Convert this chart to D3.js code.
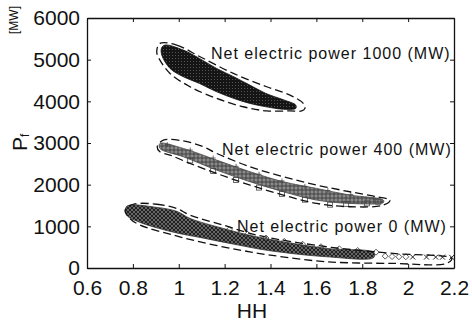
<!DOCTYPE html>
<html>
<head>
<meta charset="utf-8">
<script src="https://cdn.jsdelivr.net/npm/d3@7"></script>
<style>
  html, body { margin: 0; padding: 0; background: #fff; }
  svg { display: block; font-family: "Liberation Sans", Arial, Helvetica, sans-serif; }
</style>
</head>
<body>
<div id="chart"></div>
<script>
// axis ticks
const xTicks = [0.6, 0.8, 1.0, 1.2, 1.4, 1.6, 1.8, 2.0, 2.2];
const yTicks = [0, 1000, 2000, 3000, 4000, 5000, 6000];

// Net electric power 1000 MW : dense cloud (upper / lower edge) and dashed envelope
const hh1000Top = [0.925, 0.94, 1.02, 1.09, 1.165, 1.24, 1.31, 1.38, 1.46, 1.51];
const pf1000Top = [5280, 5350, 5230, 5030, 4790, 4590, 4390, 4190, 4030, 3910];
const hh1000Bot = [0.926, 0.962, 1.02, 1.09, 1.165, 1.24, 1.31, 1.38, 1.456, 1.51];
const pf1000Bot = [5110, 4790, 4590, 4430, 4230, 4070, 3950, 3870, 3810, 3830];
const hhEnv1000 = [0.918, 0.991, 1.093, 1.238, 1.383, 1.485, 1.543, 1.550, 1.536, 1.485, 1.383, 1.281, 1.165, 1.049, 0.962, 0.918, 0.904];
const pfEnv1000 = [5390, 5350, 5070, 4670, 4350, 4150, 3950, 3830, 3770, 3770, 3770, 3870, 4070, 4350, 4670, 4990, 5190];

// Net electric power 400 MW
const hh400Top = [0.918, 1.020, 1.165, 1.311, 1.456, 1.601, 1.746, 1.892];
const pf400Top = [2990, 2870, 2590, 2310, 2070, 1910, 1750, 1630];
const hh400Bot = [0.918, 1.020, 1.165, 1.311, 1.456, 1.601, 1.746, 1.892];
const pf400Bot = [2870, 2670, 2350, 2070, 1830, 1630, 1550, 1570];
const hhEnv400 = [0.933, 1.020, 1.107, 1.165, 1.311, 1.456, 1.601, 1.746, 1.863, 1.921, 1.892, 1.746, 1.601, 1.456, 1.311, 1.165, 1.049, 0.962, 0.918, 0.906];
const pfEnv400 = [3070, 3050, 2910, 2750, 2430, 2190, 1990, 1830, 1710, 1630, 1510, 1470, 1550, 1750, 1990, 2270, 2510, 2710, 2790, 2910];
const hh400Plus = [0.95, 1.05, 1.15, 1.25, 1.35, 1.45, 1.55, 1.65, 1.75, 1.85];
const pf400Plus = [2960, 2830, 2640, 2440, 2250, 2090, 1960, 1860, 1760, 1660];
const hh400Sq = [1.05, 1.15, 1.25, 1.35, 1.45, 1.55, 1.66, 1.73, 1.82, 1.87];
const pf400Sq = [2580, 2330, 2110, 1930, 1780, 1640, 1520, 1540, 1550, 1590];

// Net electric power 0 MW
const hh0Top = [0.773, 0.904, 0.991, 1.049, 1.194, 1.340, 1.645, 1.85];
const pf0Top = [1480, 1455, 1360, 1190, 950, 750, 470, 370];
const hh0Bot = [0.773, 0.824, 0.969, 1.114, 1.260, 1.391, 1.645, 1.85];
const pf0Bot = [1270, 1110, 870, 710, 550, 420, 270, 250];
const hhEnv0 = [0.802, 0.904, 0.991, 1.049, 1.194, 1.340, 1.645, 1.935, 2.190, 2.168, 1.935, 1.645, 1.398, 1.267, 1.122, 0.976, 0.831, 0.787, 0.766];
const pfEnv0 = [1530, 1530, 1430, 1270, 1030, 790, 510, 350, 230, 110, 110, 150, 310, 430, 590, 790, 1030, 1190, 1390];
const hh0Dia = [1.22, 1.30, 1.38, 1.46, 1.54, 1.62, 1.70, 1.78, 1.86, 1.90, 1.93, 1.96, 1.99];
const pf0Dia = [920, 810, 720, 640, 570, 510, 460, 420, 380, 285, 275, 270, 270];
const hh0X = [2.02, 2.08, 2.12, 2.15, 2.19];
const pf0X = [265, 262, 262, 260, 255];

const labels = ["Net electric power 1000 (MW)", "Net electric power 400 (MW)", "Net electric power 0 (MW)"];

const W = 472, H = 323;
const x = d3.scaleLinear().domain([0.6, 2.2]).range([87, 454]);
const y = d3.scaleLinear().domain([0, 6000]).range([268, 18]);

const svg = d3.select("#chart").append("svg").attr("width", W).attr("height", H);

const defs = svg.append("defs");
defs.append("clipPath").attr("id", "plot")
  .append("rect").attr("x", 87).attr("y", 18).attr("width", 367).attr("height", 250);

// cloud textures
const p1 = defs.append("pattern").attr("id", "pat1000").attr("width", 3).attr("height", 3).attr("patternUnits", "userSpaceOnUse");
p1.append("rect").attr("width", 3).attr("height", 3).attr("fill", "#151515");
p1.append("rect").attr("x", 1).attr("y", 1).attr("width", 1).attr("height", 1).attr("fill", "#555");
const p4 = defs.append("pattern").attr("id", "pat400").attr("width", 4).attr("height", 4).attr("patternUnits", "userSpaceOnUse");
p4.append("rect").attr("width", 4).attr("height", 4).attr("fill", "#8a8a8a");
p4.append("path").attr("d", "M2 0V4M0 2H4").attr("stroke", "#333").attr("stroke-width", 0.8);
const p0 = defs.append("pattern").attr("id", "pat0").attr("width", 4).attr("height", 4).attr("patternUnits", "userSpaceOnUse");
p0.append("rect").attr("width", 4).attr("height", 4).attr("fill", "#666");
p0.append("path").attr("d", "M0 0L4 4M4 0L0 4").attr("stroke", "#1a1a1a").attr("stroke-width", 0.9);

const closed = d3.line().x(d => x(d[0])).y(d => y(d[1])).curve(d3.curveCatmullRomClosed);
const pairs = (a, b) => a.map((v, i) => [v, b[i]]);
const band = (ht, pt, hb, pb) => pairs(ht, pt).concat(pairs(hb, pb).reverse());

const g = svg.append("g").attr("clip-path", "url(#plot)");

// dense clouds
[
  [band(hh1000Top, pf1000Top, hh1000Bot, pf1000Bot), "url(#pat1000)", "#111"],
  [band(hh400Top, pf400Top, hh400Bot, pf400Bot), "url(#pat400)", "#444"],
  [band(hh0Top, pf0Top, hh0Bot, pf0Bot), "url(#pat0)", "#333"]
].forEach(([pts, fill, edge]) => {
  g.append("path").attr("d", closed(pts)).attr("fill", fill)
    .attr("stroke", edge).attr("stroke-width", 0.8);
});

// marker points along the cloud edges
g.selectAll(".plus").data(pairs(hh400Plus, pf400Plus)).enter().append("path")
  .attr("d", d => `M${x(d[0]) - 2.5},${y(d[1])}h5M${x(d[0])},${y(d[1]) - 2.5}v5`)
  .attr("stroke", "#444").attr("stroke-width", 0.8);
g.selectAll(".sq").data(pairs(hh400Sq, pf400Sq)).enter().append("rect")
  .attr("x", d => x(d[0]) - 2.5).attr("y", d => y(d[1]) - 2.5)
  .attr("width", 5).attr("height", 5)
  .attr("fill", "none").attr("stroke", "#444").attr("stroke-width", 0.8);
g.selectAll(".dia").data(pairs(hh0Dia, pf0Dia)).enter().append("path")
  .attr("d", d => `M${x(d[0])},${y(d[1]) - 3}l3,3l-3,3l-3,-3z`)
  .attr("fill", "none").attr("stroke", "#333").attr("stroke-width", 0.8);
g.selectAll(".xm").data(pairs(hh0X, pf0X)).enter().append("path")
  .attr("d", d => `M${x(d[0]) - 2.5},${y(d[1]) - 2.5}l5,5M${x(d[0]) + 2.5},${y(d[1]) - 2.5}l-5,5`)
  .attr("stroke", "#222").attr("stroke-width", 1);

// dashed envelopes
[pairs(hhEnv1000, pfEnv1000), pairs(hhEnv400, pfEnv400), pairs(hhEnv0, pfEnv0)].forEach(pts => {
  g.append("path").attr("d", closed(pts)).attr("fill", "none")
    .attr("stroke", "#111").attr("stroke-width", 1.3).attr("stroke-dasharray", "8,4");
});

// axes (MATLAB style box, ticks pointing inward)
const fmtX = d => String(+d.toFixed(1));
svg.append("g").attr("transform", "translate(0,268)")
  .call(d3.axisBottom(x).tickValues(xTicks).tickFormat(fmtX).tickSizeInner(-4).tickSizeOuter(0).tickPadding(12));
svg.append("g").attr("transform", "translate(87,0)")
  .call(d3.axisLeft(y).tickValues(yTicks).tickFormat(d3.format("d")).tickSizeInner(-4).tickSizeOuter(0).tickPadding(7));
svg.append("g").attr("transform", "translate(0,18)")
  .call(d3.axisTop(x).tickValues(xTicks).tickFormat("").tickSizeInner(-4).tickSizeOuter(0));
svg.append("g").attr("transform", "translate(454,0)")
  .call(d3.axisRight(y).tickValues(yTicks).tickFormat("").tickSizeInner(-4).tickSizeOuter(0));

svg.selectAll(".domain").attr("stroke", "#111").attr("stroke-width", 1.3);
svg.selectAll(".tick line").attr("stroke", "#111");
svg.selectAll(".tick text").attr("fill", "#111").style("font-size", "21px");

// annotations
const labelPos = [[211, 59], [222, 155], [237, 232]];
labels.forEach((t, i) => {
  svg.append("text").attr("x", labelPos[i][0]).attr("y", labelPos[i][1])
    .style("font-size", "16px").style("letter-spacing", "1px").attr("fill", "#111").text(t);
});

// axis titles
svg.append("text").attr("x", 252).attr("y", 318).attr("text-anchor", "middle")
  .style("font-size", "21px").attr("fill", "#111").text("HH");
const yl = svg.append("text").attr("transform", "translate(27,151) rotate(-90)")
  .style("font-size", "21px").attr("fill", "#111");
yl.append("tspan").text("P");
yl.append("tspan").attr("dy", 2).style("font-size", "12px").text("f");
svg.append("text").attr("transform", "translate(18,34) rotate(-90)")
  .style("font-size", "12px").attr("fill", "#111").text("[MW]");
</script>
</body>
</html>
